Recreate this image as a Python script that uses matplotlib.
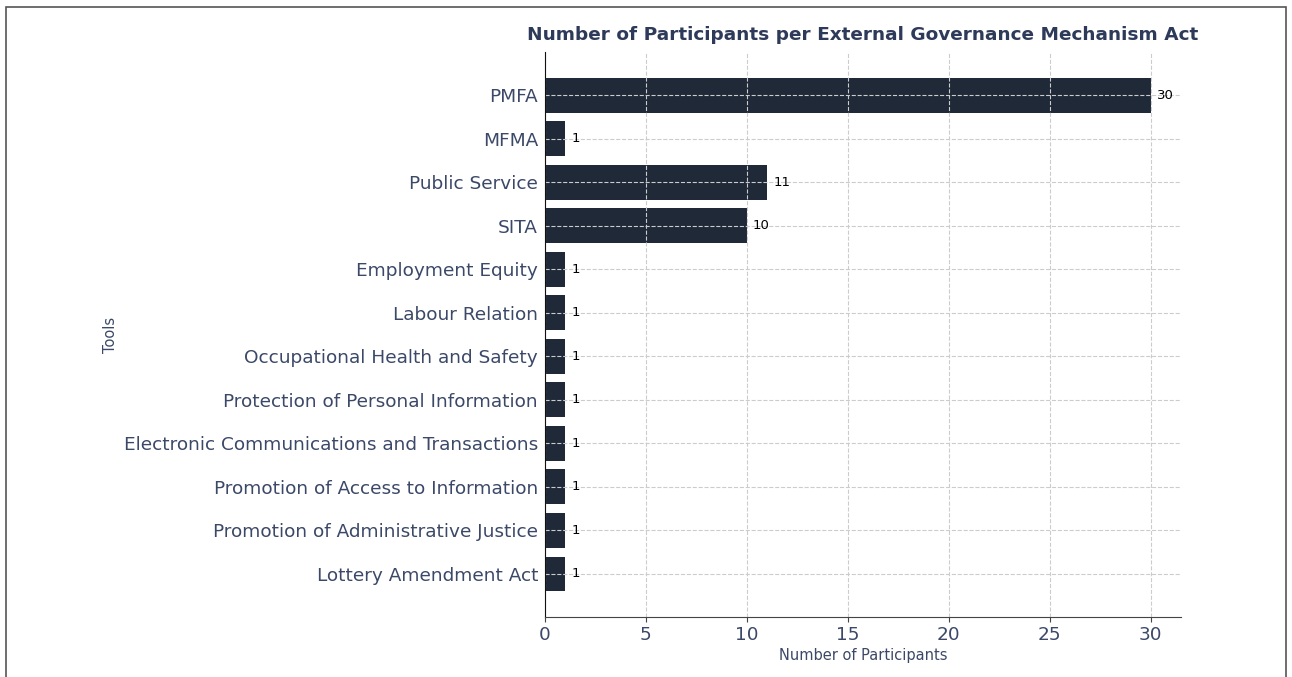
import matplotlib
matplotlib.use("Agg")
import matplotlib.pyplot as plt
from matplotlib.patches import Rectangle

# acts and number of participants, top to bottom
acts = [
    "PMFA",
    "MFMA",
    "Public Service",
    "SITA",
    "Employment Equity",
    "Labour Relation",
    "Occupational Health and Safety",
    "Protection of Personal Information",
    "Electronic Communications and Transactions",
    "Promotion of Access to Information",
    "Promotion of Administrative Justice",
    "Lottery Amendment Act",
]
participants = [30, 1, 11, 10, 1, 1, 1, 1, 1, 1, 1, 1]

bar_color = "#1f2937"
text_color = "#2e3a59"
label_color = "#3b4868"

fig = plt.figure(figsize=(12.92, 6.77), dpi=100)
ax = fig.add_axes([0.4218, 0.0886, 0.4923, 0.8344])

bars = ax.barh(acts, participants, color=bar_color, height=0.8)
ax.invert_yaxis()

for b, v in zip(bars, participants):
    ax.text(b.get_width() + 0.3, b.get_y() + b.get_height() / 2, str(v),
            va="center", ha="left", fontsize=9.5, color="black")

ax.grid(True, linestyle="--", color="#cccccc", linewidth=0.8)
ax.set_axisbelow(False)

ax.spines["top"].set_visible(False)
ax.spines["right"].set_visible(False)
ax.spines["left"].set_color("#111111")
ax.spines["bottom"].set_color("#444444")
ax.spines["left"].set_zorder(5)
ax.spines["bottom"].set_zorder(5)

ax.tick_params(axis="y", length=0, labelsize=13.3, labelcolor=label_color, pad=5)
ax.tick_params(axis="x", labelsize=13.3, labelcolor=label_color, color="#444444", pad=3)

ax.set_xlabel("Number of Participants", fontsize=10.5, color=label_color, labelpad=3)
ax.set_ylabel("Tools", fontsize=10.5, color=label_color, labelpad=4)
ax.set_title("Number of Participants per External Governance Mechanism Act",
             fontsize=13.3, fontweight="bold", color=text_color, pad=9)

# thin frame around the whole figure
fig.patches.append(Rectangle((0.0046, -0.01), 0.9907, 1.0, transform=fig.transFigure,
                             fill=False, edgecolor="#555555", linewidth=1.2))

fig.savefig("out.png", dpi=100)
